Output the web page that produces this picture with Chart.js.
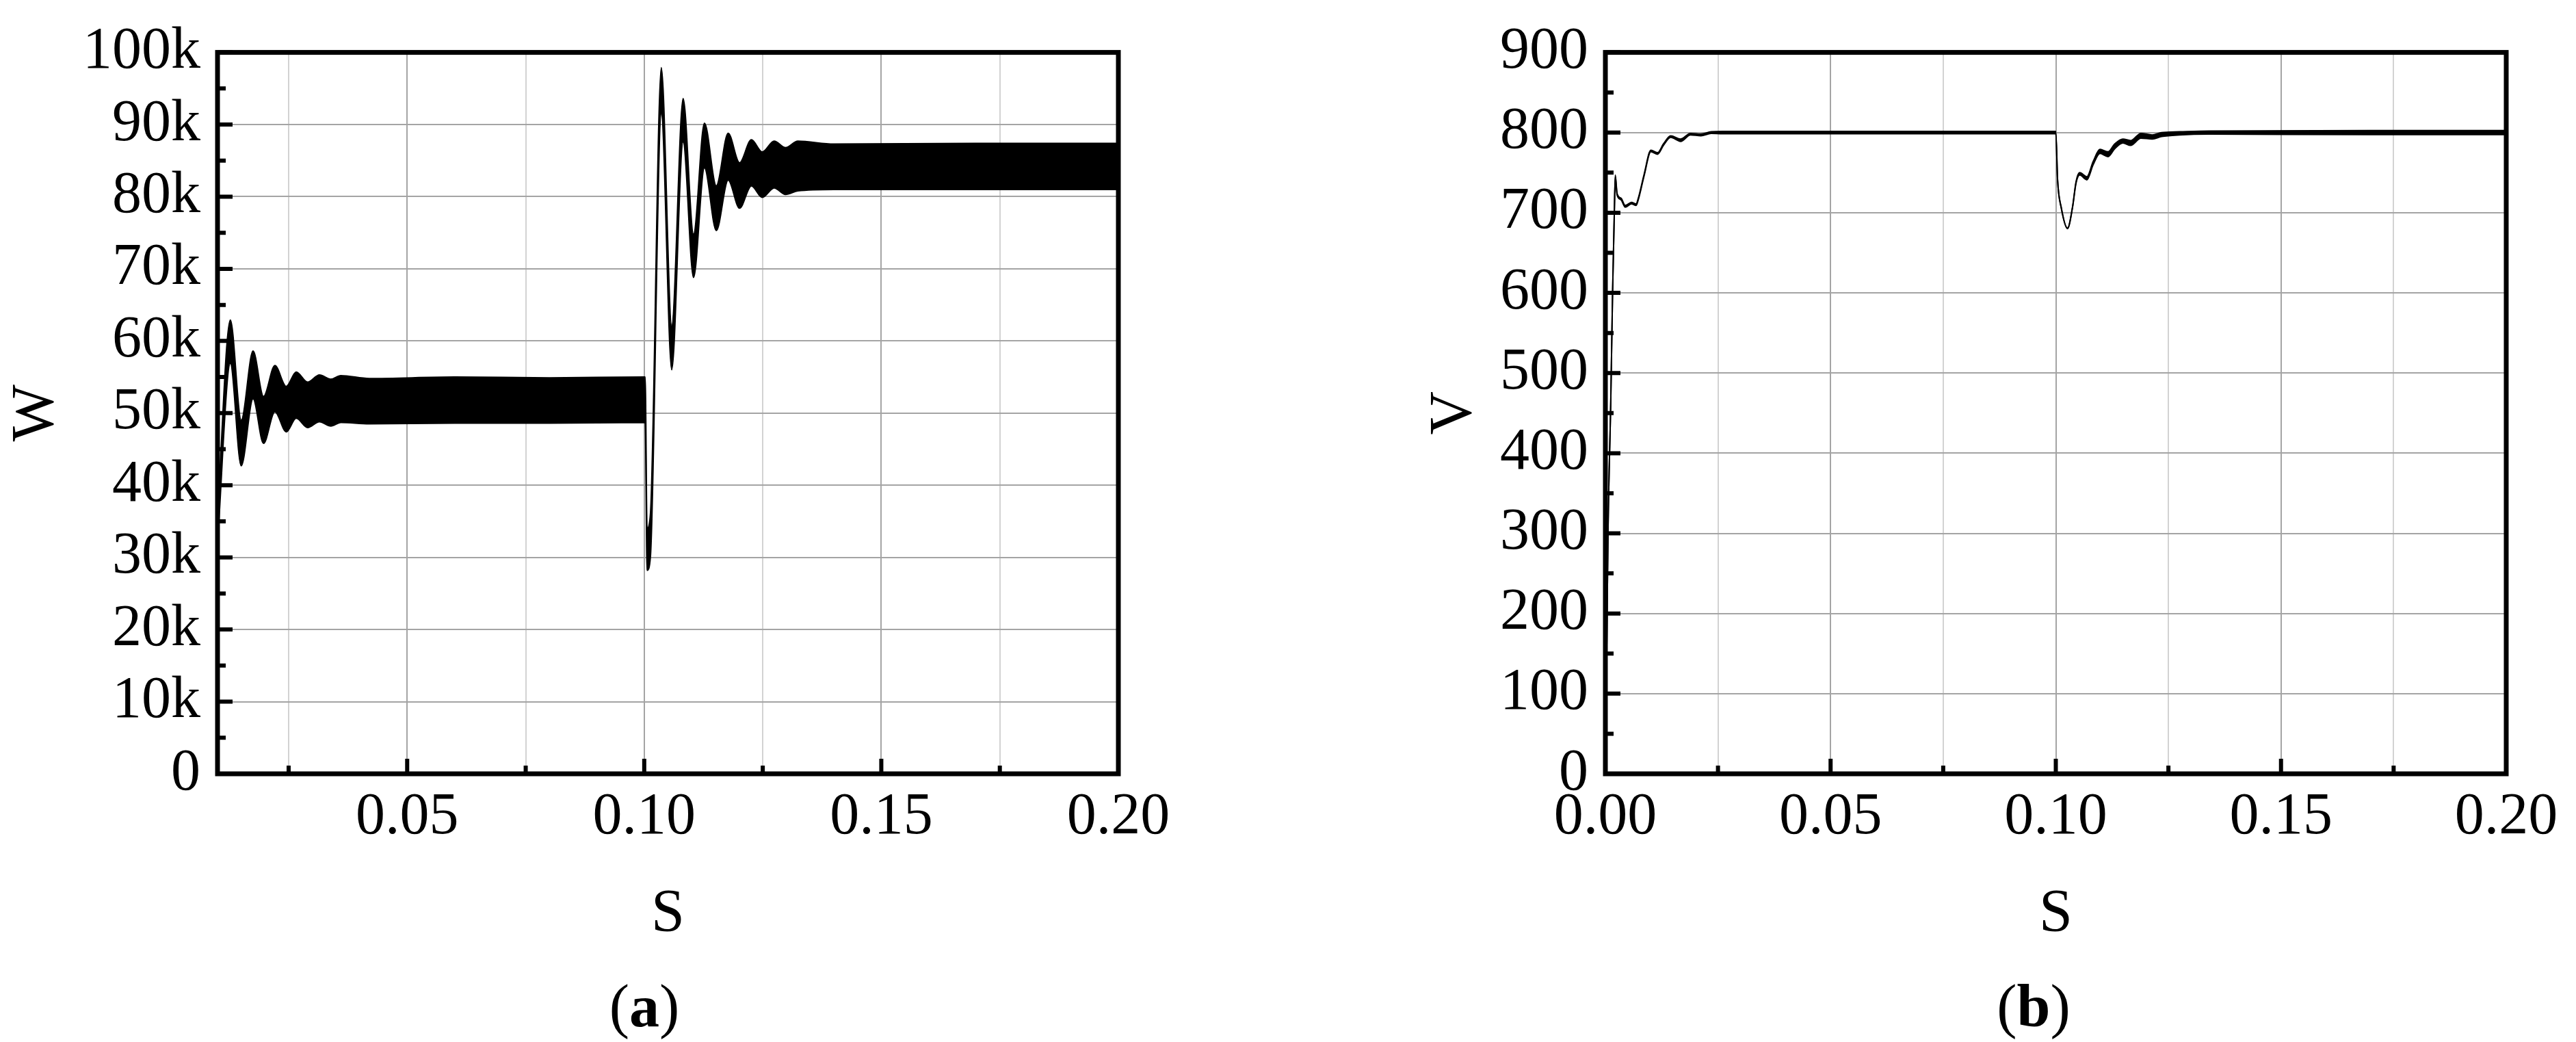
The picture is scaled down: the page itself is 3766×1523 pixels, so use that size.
<!DOCTYPE html>
<html>
<head>
<meta charset="utf-8">
<script src="https://cdn.jsdelivr.net/npm/chart.js@4.4.0/dist/chart.umd.min.js"></script>
<style>
  body { margin: 0; background: #fff; width: 3766px; height: 1523px; position: relative; overflow: hidden; }
  canvas { position: absolute; top: 0; }
  #chartA { left: 0; }
  #chartB { left: 2029px; }
  .cap { position: absolute; top: 1421px; width: 240px; text-align: center;
         font-family: 'Liberation Serif', 'Times New Roman', serif; font-size: 88px; line-height: 100px; color: #000; }
</style>
</head>
<body>
<canvas id="chartA" width="1737" height="1523"></canvas>
<canvas id="chartB" width="1737" height="1523"></canvas>
<div class="cap" style="left:822px">(<b>a</b>)</div>
<div class="cap" style="left:2853px">(<b>b</b>)</div>
<script>
// (a) power: upper and lower edge of the ripple band
const aTime  = [0.0100, 0.0127, 0.0150, 0.0175, 0.0197, 0.0221, 0.0245, 0.0266, 0.0290, 0.0315, 0.0339, 0.0360,
                0.0420, 0.0600, 0.0800, 0.1002, 0.1006, 0.1013, 0.1036, 0.1058, 0.1082, 0.1104, 0.1127, 0.1152,
                0.1177, 0.1201, 0.1226, 0.1249, 0.1274, 0.1298, 0.1324, 0.1400, 0.1700, 0.2000];
const aUpper = [36000, 62900, 49000, 58600, 52300, 56600, 53700, 55700, 54300, 55300, 54700, 55200,
                54800, 55000, 54900, 55000, 34000, 36000, 97900, 62100, 93600, 74800, 90200, 81500,
                88800, 84700, 87900, 86200, 87700, 86800, 87700, 87300, 87400, 87400];
const aLower = [32000, 56900, 42700, 52000, 45800, 50200, 47400, 49300, 48000, 48800, 48200, 48700,
                48500, 48600, 48600, 48700, 28200, 30000, 91500, 56000, 87600, 68800, 84000, 75300,
                82300, 78400, 81500, 79900, 81200, 80300, 80800, 81000, 81000, 81000];

const aXTicks  = [0.05, 0.10, 0.15, 0.20];
const aXLabels = ['0.05', '0.10', '0.15', '0.20'];
const aXMinor  = [0.025, 0.075, 0.125, 0.175];
const aYTicks  = [0, 10000, 20000, 30000, 40000, 50000, 60000, 70000, 80000, 90000, 100000];
const aYLabels = ['0', '10k', '20k', '30k', '40k', '50k', '60k', '70k', '80k', '90k', '100k'];
const aYMinor  = [5000, 15000, 25000, 35000, 45000, 55000, 65000, 75000, 85000, 95000];

// (b) voltage
const bTime  = [0, 0.0006, 0.0012, 0.0016, 0.0020, 0.0022, 0.0026, 0.0035, 0.0044, 0.0058, 0.0068, 0.0073,
                0.0086, 0.0101, 0.0116, 0.0129, 0.0145, 0.0167, 0.0189, 0.0212, 0.0235, 0.0260, 0.0600, 0.1000,
                0.1004, 0.1012, 0.1026, 0.1037, 0.1045, 0.1053, 0.1069, 0.1083, 0.1098, 0.1116, 0.1131, 0.1149,
                0.1166, 0.1189, 0.1214, 0.1235, 0.1275, 0.1340, 0.1700, 0.2000];
const bUpper = [0, 306, 466, 601, 704, 747, 724, 718, 709, 713, 711, 718,
                748, 778, 775, 786, 796, 792, 799, 798, 801, 801.5, 801.5, 801.5,
                741, 707, 681, 707, 739, 750, 745, 764, 779, 776, 786, 792,
                790, 799, 797, 800, 801, 802, 802.5, 802.5];
const bLower = [0, 306, 466, 601, 704, 745, 722, 716, 707, 711, 709, 716,
                746, 776, 773, 784, 794, 789, 797, 796, 799, 798.5, 798.5, 798.5,
                740, 706, 680, 706, 737, 747, 741, 760, 774, 770, 780, 787,
                784, 793, 792, 795, 797, 798, 797.5, 797.5];

const bXTicks  = [0, 0.05, 0.10, 0.15, 0.20];
const bXLabels = ['0.00', '0.05', '0.10', '0.15', '0.20'];
const bXMinor  = [0.025, 0.075, 0.125, 0.175];
const bYTicks  = [0, 100, 200, 300, 400, 500, 600, 700, 800, 900];
const bYLabels = ['0', '100', '200', '300', '400', '500', '600', '700', '800', '900'];
const bYMinor  = [50, 150, 250, 350, 450, 550, 650, 750, 850];

const serif = "'Liberation Serif', 'Times New Roman', serif";

function makeTicks(major, labels, minor) {
  const list = major.map((v, i) => ({ value: v, text: labels[i], isMajor: true }));
  minor.forEach(v => list.push({ value: v, text: '', isMajor: false }));
  return list.sort((p, q) => p.value - q.value);
}

// origin-style frame with inward tick marks
const frameTicks = {
  id: 'frameTicks',
  afterDatasetsDraw(chart) {
    const { ctx, chartArea: ca, scales } = chart;
    ctx.save();
    ctx.strokeStyle = '#000';
    ctx.lineWidth = 6;
    ctx.beginPath();
    scales.x.ticks.forEach(t => {
      const px = scales.x.getPixelForValue(t.value);
      const len = t.isMajor ? 22 : 12;
      ctx.moveTo(px, ca.bottom);
      ctx.lineTo(px, ca.bottom - len);
    });
    scales.y.ticks.forEach(t => {
      const py = scales.y.getPixelForValue(t.value);
      const len = t.isMajor ? 22 : 12;
      ctx.moveTo(ca.left, py);
      ctx.lineTo(ca.left + len, py);
    });
    ctx.stroke();
    ctx.lineWidth = 7;
    ctx.strokeRect(ca.left, ca.top, ca.right - ca.left, ca.bottom - ca.top);
    ctx.restore();
  }
};

function drawPanel(id, time, upper, lower, xMin, xMax, yMax, xTicks, yTicks, yTitle, yTitlePad) {
  const band = {
    data: time.map((t, i) => ({ x: t, y: upper[i] })),
    borderColor: '#000', backgroundColor: '#000', borderWidth: 2,
    fill: '+1', pointRadius: 0, cubicInterpolationMode: 'monotone'
  };
  const bottom = {
    data: time.map((t, i) => ({ x: t, y: lower[i] })),
    borderColor: '#000', borderWidth: 2,
    fill: false, pointRadius: 0, cubicInterpolationMode: 'monotone'
  };

  new Chart(document.getElementById(id).getContext('2d'), {
    type: 'line',
    data: { datasets: [band, bottom] },
    plugins: [frameTicks],
    options: {
      responsive: false,
      animation: false,
      layout: { padding: { top: 71, right: 102, bottom: 0, left: 0 } },
      plugins: { legend: { display: false }, tooltip: { enabled: false } },
      scales: {
        x: {
          type: 'linear', min: xMin, max: xMax,
          afterBuildTicks: s => { s.ticks = xTicks.map(t => Object.assign({}, t)); },
          afterFit: s => { s.height = 392; },
          border: { display: false },
          grid: {
            drawTicks: false, lineWidth: 2,
            color: c => (c.tick && c.tick.isMajor) ? '#a4a4a4' : '#d2d2d2'
          },
          ticks: {
            autoSkip: false, maxRotation: 0, minRotation: 0, padding: 13, color: '#000',
            font: { family: serif, size: 86 },
            callback: (v, i, ts) => ts[i].text
          },
          title: {
            display: true, text: 'S', color: '#000',
            font: { family: serif, size: 88 }, padding: { top: 0, bottom: 133 }
          }
        },
        y: {
          min: 0, max: yMax,
          afterBuildTicks: s => { s.ticks = yTicks.map(t => Object.assign({}, t)); },
          afterFit: s => { s.width = 318; },
          border: { display: false },
          grid: {
            drawTicks: false, lineWidth: 2,
            color: c => (c.tick && c.tick.isMajor) ? '#a4a4a4' : 'rgba(0,0,0,0)'
          },
          ticks: {
            autoSkip: false, padding: 25, color: '#000',
            font: { family: serif, size: 86 },
            callback: (v, i, ts) => ts[i].text
          },
          title: {
            display: true, text: yTitle, color: '#000',
            font: { family: serif, size: 88 }, padding: { top: yTitlePad, bottom: 0 }
          }
        }
      }
    }
  });
}

drawPanel('chartA', aTime, aUpper, aLower, 0.01, 0.2, 100000,
          makeTicks(aXTicks, aXLabels, aXMinor), makeTicks(aYTicks, aYLabels, aYMinor), 'W', 1);
drawPanel('chartB', bTime, bUpper, bLower, 0, 0.2, 900,
          makeTicks(bXTicks, bXLabels, bXMinor), makeTicks(bYTicks, bYLabels, bYMinor), 'V', 45);
</script>
</body>
</html>
